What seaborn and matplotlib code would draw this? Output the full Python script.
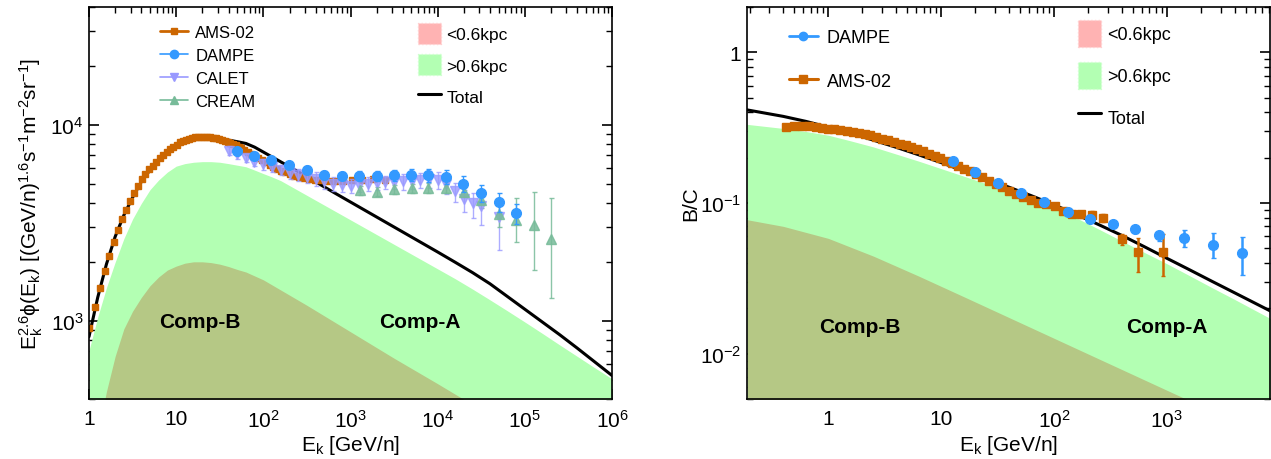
import numpy as np
import matplotlib
matplotlib.use("Agg")
import matplotlib.pyplot as plt
import seaborn as sns
from matplotlib.lines import Line2D
from matplotlib.patches import Patch
from matplotlib.ticker import LogLocator, FuncFormatter, NullFormatter, FixedLocator

# ---------------- LEFT PANEL DATA (E^2.6 x flux), model curves as log10 values ----------------
tot_logE = [0.0, 0.1, 0.2, 0.3, 0.4, 0.5, 0.6, 0.7, 0.8, 0.9, 1.0, 1.1, 1.2, 1.3, 1.4, 1.5, 1.6, 1.7, 1.8,
            1.9, 2.0, 2.1, 2.2, 2.4, 2.6, 2.8, 3.0, 3.2, 3.4, 3.6, 3.8, 4.0, 4.2, 4.4, 4.6, 4.8, 5.0, 5.2,
            5.4, 5.6, 5.8, 6.0]
tot_logF = [2.92, 3.12, 3.29, 3.43, 3.54, 3.63, 3.71, 3.77, 3.82, 3.86, 3.89, 3.91, 3.925, 3.932, 3.933,
            3.93, 3.923, 3.915, 3.906, 3.887, 3.862, 3.837, 3.812, 3.762, 3.71, 3.658, 3.607, 3.556, 3.505,
            3.454, 3.403, 3.352, 3.30, 3.247, 3.19, 3.125, 3.06, 2.995, 2.93, 2.862, 2.792, 2.722]
compA_logE = [0.0, 0.1, 0.2, 0.3, 0.4, 0.5, 0.6, 0.7, 0.8, 0.9, 1.0, 1.1, 1.2, 1.3, 1.4, 1.5, 1.6, 1.7, 1.8,
              1.9, 2.0, 2.1, 2.2, 2.4, 2.6, 2.8, 3.0, 3.2, 3.4, 3.6, 3.8, 4.0, 4.2, 4.4, 4.6, 4.8, 5.0, 5.2,
              5.4, 5.6, 5.8, 6.0]
compA_logF = [2.85, 3.02, 3.17, 3.30, 3.42, 3.52, 3.60, 3.67, 3.72, 3.76, 3.79, 3.803, 3.81, 3.813, 3.813,
              3.81, 3.803, 3.795, 3.787, 3.77, 3.752, 3.735, 3.716, 3.666, 3.616, 3.566, 3.516, 3.466, 3.416,
              3.366, 3.316, 3.266, 3.216, 3.163, 3.108, 3.052, 2.995, 2.937, 2.878, 2.82, 2.762, 2.705]
compB_logE = [0.182, 0.2, 0.3, 0.4, 0.5, 0.6, 0.7, 0.8, 0.9, 1.0, 1.1, 1.2, 1.3, 1.4, 1.5, 1.6, 1.7, 1.8,
              2.0, 2.5, 3.0, 3.5, 4.0, 4.3, 4.45]
compB_logF = [2.60, 2.64, 2.82, 2.96, 3.05, 3.12, 3.18, 3.225, 3.26, 3.28, 3.295, 3.302, 3.302, 3.298, 3.29,
              3.278, 3.263, 3.25, 3.21, 3.08, 2.945, 2.81, 2.68, 2.6, 2.56]

ams_E = [1.0, 1.16, 1.33, 1.51, 1.71, 1.92, 2.15, 2.40, 2.67, 2.97, 3.29, 3.64, 4.02, 4.43, 4.88, 5.37,
         5.90, 6.47, 7.09, 7.76, 8.48, 9.26, 10.1, 11.0, 12.0, 13.0, 14.1, 15.3, 16.6, 18.0, 19.5, 21.1,
         22.8, 24.7, 26.7, 28.8, 31.1, 33.5, 36.1, 38.9, 41.9, 45.1, 48.5, 52.2, 56.1, 60.3, 66.0, 73.0,
         80.0, 88.0, 97.0, 107, 118, 130, 144, 160, 178, 200, 225, 255, 290, 335, 390, 460, 550, 670,
         830, 1050, 1350, 1800, 2500]
ams_F = [920, 1180, 1480, 1800, 2150, 2520, 2900, 3300, 3700, 4100, 4500, 4900, 5300, 5650, 5950, 6200,
         6500, 6800, 7050, 7300, 7550, 7750, 7950, 8150, 8300, 8420, 8520, 8600, 8650, 8680, 8700, 8700,
         8680, 8650, 8600, 8540, 8470, 8400, 8320, 8230, 8120, 8000, 7880, 7750, 7620, 7480, 7320, 7150,
         6980, 6800, 6620, 6450, 6280, 6120, 5980, 5850, 5730, 5620, 5520, 5440, 5370, 5310, 5260, 5220,
         5200, 5200, 5200, 5220, 5250, 5280, 5250]

dampe_E = [50, 78, 121, 198, 314, 495, 790, 1260, 2040, 3150, 5000, 7800, 12400, 19500, 31600, 50600, 79000]
dampe_F = [7360, 6980, 6630, 6250, 5890, 5580, 5490, 5490, 5490, 5560, 5590, 5560, 5450, 5010, 4480, 4060, 3540]
dampe_rel = [0.04, 0.04, 0.04, 0.04, 0.045, 0.05, 0.05, 0.055, 0.06, 0.065, 0.07, 0.075, 0.08, 0.09, 0.10, 0.11, 0.12]

calet_E = [40, 50, 63, 79, 100, 126, 158, 200, 251, 316, 398, 501, 631, 794, 1000, 1260, 1580, 2000,
           2510, 3160, 3980, 5010, 6310, 7940, 10000, 12600, 15800, 20000, 25100, 31600, 50100]
calet_F = [7400, 7100, 6800, 6500, 6300, 6100, 5900, 5700, 5550, 5450, 5300, 5150, 5000, 4950, 4900,
           4950, 5000, 5050, 5100, 5100, 5150, 5200, 5250, 5300, 5250, 5000, 4600, 4200, 4000, 3850, 3400]
calet_lo = [0.05, 0.05, 0.05, 0.05, 0.06, 0.06, 0.06, 0.07, 0.07, 0.07, 0.08, 0.08, 0.08, 0.08, 0.08,
            0.08, 0.08, 0.08, 0.08, 0.08, 0.09, 0.09, 0.09, 0.10, 0.10, 0.11, 0.12, 0.14, 0.16, 0.20, 0.32]
calet_hi = [0.05, 0.05, 0.05, 0.05, 0.06, 0.06, 0.06, 0.07, 0.07, 0.07, 0.08, 0.08, 0.08, 0.08, 0.08,
            0.08, 0.08, 0.08, 0.08, 0.08, 0.09, 0.09, 0.09, 0.10, 0.10, 0.10, 0.10, 0.11, 0.12, 0.12, 0.20]

cream_E = [1290, 2040, 3160, 5010, 7760, 12600, 19950, 31600, 50100, 79400, 126000, 200000]
cream_F = [4650, 4570, 4690, 4750, 4790, 4790, 4570, 4140, 3500, 3270, 3080, 2610]
cream_lo = [250, 250, 250, 260, 270, 280, 300, 350, 500, 730, 1265, 1295]
cream_hi = [250, 250, 250, 260, 270, 280, 300, 350, 500, 950, 1490, 1640]

# ---------------- RIGHT PANEL DATA (B/C), model curves as log10 values ----------------
btot_logE = [-0.72, -0.4, -0.2, 0.0, 0.2, 0.4, 0.6, 0.8, 1.0, 1.2, 1.4, 1.6, 1.8, 2.0, 2.2, 2.4, 2.6, 2.8,
             3.0, 3.2, 3.4, 3.6, 3.92]
btot_logR = [-0.382, -0.425, -0.458, -0.497, -0.538, -0.583, -0.63, -0.68, -0.732, -0.787, -0.84, -0.895,
             -0.952, -1.012, -1.077, -1.145, -1.215, -1.29, -1.367, -1.443, -1.52, -1.596, -1.718]
bA_logE = [-0.72, -0.4, -0.2, 0.0, 0.2, 0.4, 0.6, 0.8, 1.0, 1.2, 1.4, 1.6, 1.8, 2.0, 2.2, 2.4, 2.6, 2.8,
           3.0, 3.2, 3.4, 3.6, 3.92]
bA_logR = [-0.478, -0.505, -0.525, -0.55, -0.588, -0.628, -0.675, -0.722, -0.772, -0.822, -0.872, -0.922,
           -0.978, -1.035, -1.10, -1.175, -1.252, -1.328, -1.403, -1.482, -1.562, -1.64, -1.768]
bB_logE = [-0.72, -0.4, 0.0, 0.4, 0.8, 1.2, 1.6, 2.0, 2.4, 2.8, 3.2]
bB_logR = [-1.111, -1.155, -1.235, -1.353, -1.485, -1.622, -1.76, -1.898, -2.036, -2.174, -2.312]

bams_E = [0.42, 0.5, 0.58, 0.67, 0.77, 0.88, 1.0, 1.13, 1.28, 1.45, 1.64, 1.85, 2.09, 2.36, 2.66, 3.0,
          3.38, 3.81, 4.29, 4.83, 5.44, 6.13, 6.9, 7.77, 8.75, 9.85, 11.1, 12.5, 14.1, 15.9, 18.0, 20.4,
          23.2, 26.5, 30.3, 34.8, 40.0, 46.2, 53.5, 62.2, 72.8, 85.6, 101, 120, 144, 175, 215, 270, 400,
          560, 930]
bams_R = [0.318, 0.322, 0.323, 0.322, 0.319, 0.316, 0.312, 0.309, 0.305, 0.301, 0.297, 0.292, 0.287,
          0.281, 0.275, 0.268, 0.262, 0.255, 0.248, 0.241, 0.234, 0.227, 0.220, 0.212, 0.205, 0.198,
          0.190, 0.183, 0.176, 0.169, 0.162, 0.155, 0.148, 0.141, 0.134, 0.127, 0.121, 0.115, 0.109,
          0.104, 0.100, 0.098, 0.095, 0.088, 0.085, 0.084, 0.083, 0.080, 0.0575, 0.047, 0.0475]
bams_err = [0.012, 0.012, 0.012, 0.011, 0.011, 0.010, 0.010, 0.009, 0.009, 0.008, 0.008, 0.008, 0.007,
            0.007, 0.007, 0.006, 0.006, 0.006, 0.006, 0.005, 0.005, 0.005, 0.005, 0.005, 0.005, 0.005,
            0.005, 0.005, 0.004, 0.004, 0.004, 0.004, 0.004, 0.004, 0.004, 0.004, 0.004, 0.004, 0.004,
            0.004, 0.004, 0.004, 0.004, 0.004, 0.004, 0.004, 0.005, 0.005, 0.005, 0.012, 0.0145]

bdampe_E = [12.8, 20, 31.8, 51, 82, 132, 210, 330, 527, 850, 1430, 2550, 4620]
bdampe_R = [0.191, 0.161, 0.136, 0.117, 0.101, 0.087, 0.0786, 0.0724, 0.0671, 0.0615, 0.059, 0.0528, 0.0464]
bdampe_lo = [0.003, 0.0025, 0.002, 0.002, 0.0018, 0.0018, 0.0018, 0.002, 0.0035, 0.0052, 0.008, 0.0096, 0.0131]
bdampe_hi = [0.003, 0.0025, 0.002, 0.002, 0.0018, 0.0018, 0.0018, 0.002, 0.0035, 0.003, 0.0072, 0.0102, 0.0135]

# ---------------- STYLE ----------------
sns.set_theme(style="ticks")
plt.rcParams['font.family'] = ['Liberation Sans', 'DejaVu Sans']
plt.rcParams['mathtext.fontset'] = 'custom'
plt.rcParams['mathtext.rm'] = 'Liberation Sans'
plt.rcParams['mathtext.it'] = 'Liberation Sans:italic'
plt.rcParams['mathtext.bf'] = 'Liberation Sans:bold'
plt.rcParams['text.color'] = 'black'
plt.rcParams['axes.labelcolor'] = 'black'
plt.rcParams['xtick.color'] = 'black'
plt.rcParams['ytick.color'] = 'black'
plt.rcParams['xtick.labelcolor'] = 'black'
plt.rcParams['ytick.labelcolor'] = 'black'

C_AMS = '#cc6600'
C_DAMPE = '#3399ff'
C_CALET = '#9999ff'
C_CREAM = '#77bb99'
C_GREEN = '#b3ffb3'
C_OLIVE = '#b5c885'
C_PINK = '#ffb3b3'

fig = plt.figure(figsize=(12.71, 4.60), dpi=100)
axL = fig.add_axes([89/1271, 60/460, 523/1271, 392/460])
axR = fig.add_axes([747/1271, 60/460, 523/1271, 392/460])


def pw(vals):
    return [10.0 ** v for v in vals]


def style_axes(ax, xmaj, ymaj):
    ax.set_xscale('log')
    ax.set_yscale('log')
    for s in ax.spines.values():
        s.set_linewidth(1.2)
        s.set_color('black')
        s.set_zorder(10)
    ax.tick_params(which='both', direction='in', top=True, right=True, color='black',
                   labelcolor='black', zorder=11)
    ax.tick_params(which='major', length=7, width=1.2, labelsize=15)
    ax.tick_params(which='minor', length=4.3, width=1.0)
    ax.tick_params(axis='x', which='major', pad=7)
    ax.tick_params(axis='y', which='major', pad=4)
    ax.xaxis.set_major_locator(FixedLocator(xmaj))
    ax.yaxis.set_major_locator(FixedLocator(ymaj))
    ax.xaxis.set_minor_locator(LogLocator(base=10, subs=np.arange(2, 10), numticks=100))
    ax.yaxis.set_minor_locator(LogLocator(base=10, subs=np.arange(2, 10), numticks=100))
    ax.xaxis.set_minor_formatter(NullFormatter())
    ax.yaxis.set_minor_formatter(NullFormatter())
    ax.grid(False)


def fmt_pow(v, pos):
    e = int(round(np.log10(v)))
    if e == 0:
        return '1'
    if e == 1:
        return '10'
    return r'$\mathregular{10^{%d}}$' % e


def fmt_pow_y(v, pos):
    e = int(round(np.log10(v)))
    if e == 0:
        return '1'
    return r'$\mathregular{10^{%d}}$' % e if e >= 0 else r'$\mathregular{10^{\minus%d}}$' % (-e)


# ---------------- LEFT PANEL ----------------
ax = axL
style_axes(ax, [1, 10, 1e2, 1e3, 1e4, 1e5, 1e6], [1e3, 1e4])
ymin_L, ymax_L = 400, 40000
ax.fill_between(pw(compA_logE), ymin_L * 0.5, pw(compA_logF), color=C_GREEN, lw=0, zorder=1)
ax.fill_between(pw(compB_logE), ymin_L * 0.5, pw(compB_logF), color=C_OLIVE, lw=0, zorder=2)
sns.lineplot(x=pw(tot_logE), y=pw(tot_logF), ax=ax, color='black', lw=2.2, zorder=5, sort=False)

ams_err = [f * 0.03 for f in ams_F]
ax.errorbar(ams_E, ams_F, yerr=ams_err, fmt='s', color=C_AMS, ms=5, elinewidth=1.5, capsize=0, zorder=6)
ax.errorbar(calet_E, calet_F, yerr=[[f * l for f, l in zip(calet_F, calet_lo)], [f * h for f, h in zip(calet_F, calet_hi)]],
            fmt='v', color=C_CALET, ms=6.5, elinewidth=1.0, capsize=1.8, alpha=0.8, zorder=7)
ax.errorbar(cream_E, cream_F, yerr=[cream_lo, cream_hi], fmt='^', color=C_CREAM, ms=6.5, elinewidth=1.0,
            capsize=1.8, alpha=0.85, zorder=7)
ax.errorbar(dampe_E, dampe_F, yerr=[f * r for f, r in zip(dampe_F, dampe_rel)], fmt='o', color=C_DAMPE, ms=7,
            elinewidth=1.0, capsize=1.8, zorder=8)

ax.set_xlim(1, 1e6)
ax.set_ylim(ymin_L, ymax_L)
ax.xaxis.set_major_formatter(FuncFormatter(fmt_pow))
ax.yaxis.set_major_formatter(FuncFormatter(fmt_pow_y))
ax.set_xlabel(r'$\mathregular{E_k}$ [GeV/n]', fontsize=15, labelpad=2, color='black')
ax.set_ylabel(r'$\mathregular{E_k^{2.6}\phi(E_k)\ [(GeV/n)^{1.6}s^{-1}m^{-2}sr^{-1}]}$', fontsize=15, labelpad=4,
              color='black')
ax.text(18.8, 1000, 'Comp-B', fontsize=15, fontweight='bold', ha='center', va='center', zorder=9, color='black')
ax.text(6200, 1000, 'Comp-A', fontsize=15, fontweight='bold', ha='center', va='center', zorder=9, color='black')

h_exp = [Line2D([], [], color=C_AMS, marker='s', ms=5, lw=2),
         Line2D([], [], color=C_DAMPE, marker='o', ms=6, lw=1.2),
         Line2D([], [], color=C_CALET, marker='v', ms=6, lw=1.2),
         Line2D([], [], color=C_CREAM, marker='^', ms=6, lw=1.2)]
leg1 = ax.legend(h_exp, ['AMS-02', 'DAMPE', 'CALET', 'CREAM'], loc='upper left', bbox_to_anchor=(0.135, 0.955),
                 frameon=False, fontsize=12, handlelength=1.7, handletextpad=0.45, labelspacing=0.49,
                 borderpad=0, borderaxespad=0, labelcolor='black')
ax.add_artist(leg1)
h_comp = [Patch(facecolor=C_PINK, edgecolor='#ffd0d0', ls=':', lw=1),
          Patch(facecolor=C_GREEN, edgecolor='#d0ffd0', ls=':', lw=1),
          Line2D([], [], color='black', lw=2.2)]
ax.legend(h_comp, ['<0.6kpc', '>0.6kpc', 'Total'], loc='upper left', bbox_to_anchor=(0.63, 0.960),
          frameon=False, fontsize=12.5, handlelength=1.27, handleheight=1.48, handletextpad=0.35,
          labelspacing=0.62, borderpad=0, borderaxespad=0, labelcolor='black')

# ---------------- RIGHT PANEL ----------------
ax = axR
style_axes(ax, [1, 10, 1e2, 1e3], [0.01, 0.1, 1])
ymin_R, ymax_R = 0.005, 2.0
ax.fill_between(pw(bA_logE), ymin_R * 0.5, pw(bA_logR), color=C_GREEN, lw=0, zorder=1)
ax.fill_between(pw(bB_logE), ymin_R * 0.5, pw(bB_logR), color=C_OLIVE, lw=0, zorder=2)
sns.lineplot(x=pw(btot_logE), y=pw(btot_logR), ax=ax, color='black', lw=2.2, zorder=5, sort=False)
ax.errorbar(bams_E, bams_R, yerr=bams_err, fmt='s', color=C_AMS, ms=5.5, elinewidth=1.8, capsize=1.5, zorder=6)
ax.errorbar(bdampe_E, bdampe_R, yerr=[bdampe_lo, bdampe_hi], fmt='o', color=C_DAMPE, ms=7, elinewidth=1.8,
            capsize=1.8, zorder=8)
ax.set_xlim(0.19, 8200)
ax.set_ylim(ymin_R, ymax_R)
ax.xaxis.set_major_formatter(FuncFormatter(fmt_pow))
ax.yaxis.set_major_formatter(FuncFormatter(fmt_pow_y))
ax.set_xlabel(r'$\mathregular{E_k}$ [GeV/n]', fontsize=15, labelpad=2, color='black')
ax.set_ylabel('B/C', fontsize=15, labelpad=0, color='black')
ax.text(1.89, 0.0151, 'Comp-B', fontsize=15, fontweight='bold', ha='center', va='center', zorder=9, color='black')
ax.text(1000, 0.0151, 'Comp-A', fontsize=15, fontweight='bold', ha='center', va='center', zorder=9, color='black')

h_exp2 = [Line2D([], [], color=C_DAMPE, marker='o', ms=6, lw=2),
          Line2D([], [], color=C_AMS, marker='s', ms=6, lw=2.2)]
leg2 = ax.legend(h_exp2, ['DAMPE', 'AMS-02'], loc='upper left', bbox_to_anchor=(0.08, 0.944),
                 frameon=False, fontsize=13, handlelength=1.6, handletextpad=0.5, labelspacing=1.48,
                 borderpad=0, borderaxespad=0, labelcolor='black')
ax.add_artist(leg2)
ax.legend(h_comp, ['<0.6kpc', '>0.6kpc', 'Total'], loc='upper left', bbox_to_anchor=(0.633, 0.968),
          frameon=False, fontsize=13, handlelength=1.28, handleheight=2.0, handletextpad=0.35,
          labelspacing=0.78, borderpad=0, borderaxespad=0, labelcolor='black')

fig.savefig('out.png', dpi=100)
